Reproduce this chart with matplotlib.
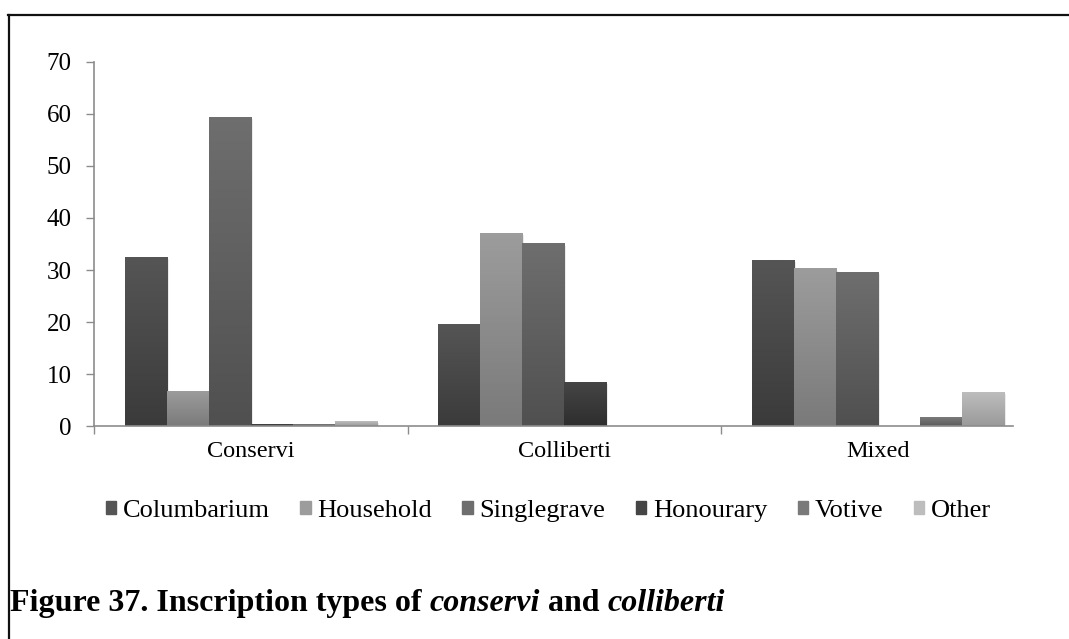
import numpy as np
import matplotlib.pyplot as plt
from matplotlib.lines import Line2D
from matplotlib.colors import LinearSegmentedColormap

plt.rcParams['font.family'] = ['Liberation Serif', 'DejaVu Serif']

groups = ['Conservi', 'Colliberti', 'Mixed']
types = ['Columbarium', 'Household', 'Single grave', 'Honourary', 'Votive', 'Other']
values = {
    'Columbarium':  [32.4, 19.5, 31.9],
    'Household':    [6.6, 37.1, 30.2],
    'Single grave': [59.3, 35.0, 29.5],
    'Honourary':    [0.3, 8.3, 0.0],
    'Votive':       [0.2, 0.0, 1.6],
    'Other':        [0.9, 0.0, 6.4],
}
# top / bottom shade of each series
shades = {
    'Columbarium':  ('#555555', '#3b3b3b'),
    'Household':    ('#9c9c9c', '#7a7a7a'),
    'Single grave': ('#6e6e6e', '#505050'),
    'Honourary':    ('#454545', '#2e2e2e'),
    'Votive':       ('#7a7a7a', '#5c5c5c'),
    'Other':        ('#bdbdbd', '#9a9a9a'),
}
legend_labels = ['Columbarium', 'Household', 'Singlegrave', 'Honourary', 'Votive', 'Other']

fig = plt.figure(figsize=(10.69, 6.39), dpi=100)
ax = fig.add_axes([0.0879, 0.3333, 0.968 - 0.0879, 0.903 - 0.3333])

x = np.arange(len(groups))
w = 0.134
grad = np.linspace(0, 1, 64).reshape(-1, 1)
for i, t in enumerate(types):
    pos = x + (i - 2.5) * w
    bars = ax.bar(pos, values[t], width=w, color='none', edgecolor='none', zorder=2)
    cmap = LinearSegmentedColormap.from_list(t, [shades[t][1], shades[t][0]])
    for b in bars:
        h = b.get_height()
        if h <= 0:
            continue
        x0 = b.get_x()
        ax.imshow(grad, cmap=cmap, aspect='auto', origin='lower',
                  extent=(x0, x0 + b.get_width(), 0, h), zorder=2)
        # soft shadow to the right
        ax.bar(x0 + b.get_width() / 2 + 0.006, h, width=b.get_width(), bottom=-0.3,
               color='#000000', alpha=0.08, zorder=1)

ax.set_xlim(-0.5, 2.5)
ax.set_ylim(0, 70)
ax.set_yticks(range(0, 71, 10))
ax.set_xticks(x)
ax.set_xticklabels(groups)
ax.set_xticks([-0.5, 0.5, 1.5], minor=True)
ax.tick_params(axis='x', which='major', length=0, pad=11, labelsize=17.5)
ax.tick_params(axis='x', which='minor', length=6, color='#8c8c8c', width=1)
ax.tick_params(axis='y', length=6, color='#8c8c8c', width=1, pad=10, labelsize=18)
for s in ['top', 'right']:
    ax.spines[s].set_visible(False)
for s in ['left', 'bottom']:
    ax.spines[s].set_color('#8c8c8c')
    ax.spines[s].set_linewidth(1.2)
ax.spines['bottom'].set_bounds(-0.5, 2.43)

handles = [plt.Rectangle((0, 0), 1, 1, color=shades[t][0]) for t in types]
fig.legend(handles, legend_labels, loc='center', bbox_to_anchor=(0.513, 0.2), ncol=6,
           frameon=False, fontsize=19, handlelength=0.4, handleheight=0.4,
           handletextpad=0.25, columnspacing=1.15)

# figure caption, bold with italic words
r = fig.canvas.get_renderer()
parts = [('Figure 37. Inscription types of ', 'normal'), ('conservi', 'italic'),
         (' and ', 'normal'), ('colliberti', 'italic')]
xpos = 0.009
for txt, style in parts:
    t = fig.text(xpos, 0.056, txt, fontsize=23, fontweight='bold', style=style,
                 va='center', ha='left')
    bb = t.get_window_extent(renderer=r)
    xpos += bb.width / fig.bbox.width

# outer frame (top and left edges)
fig.add_artist(Line2D([0.0075, 1.0], [1 - 15 / 639, 1 - 15 / 639], color='#111111', lw=1.6))
fig.add_artist(Line2D([0.0085, 0.0085], [0, 1 - 15 / 639], color='#111111', lw=1.6))

fig.savefig('out.png', dpi=100)
